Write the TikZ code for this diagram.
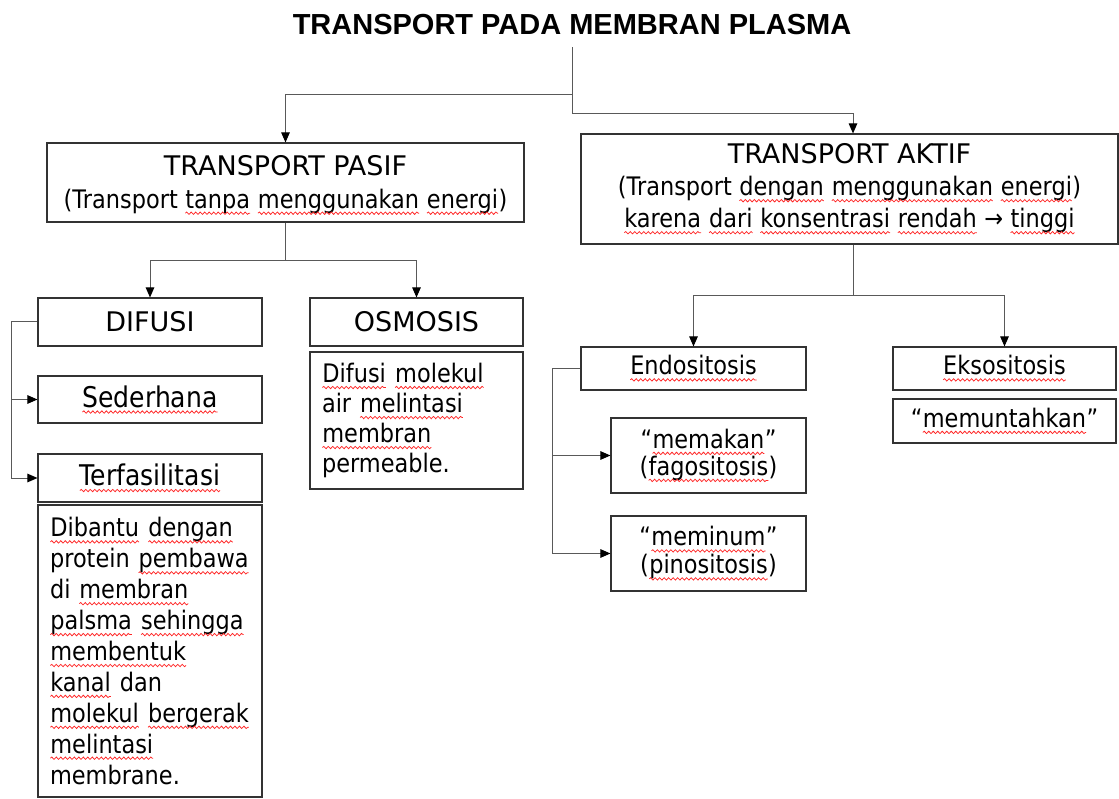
\documentclass[tikz,border=0pt]{standalone}
\usepackage{fontspec}
\setmainfont{DejaVu Sans}[FakeStretch=0.88]
\newfontfamily\headfont{DejaVu Sans}
\newfontfamily\titlefont{Liberation Sans}
\usepackage{xcolor}
\usetikzlibrary{arrows.meta,positioning,decorations.pathmorphing}
% garis merah bergelombang di bawah kata
\newcommand\sq[1]{\tikz[baseline=(w.base)]{\node[draw=none, inner sep=0pt, outer sep=0pt, minimum width=0pt, minimum height=0pt, text width={}, align=left, font={}] (w) {#1};
    \draw[red!85!white, line width=0.75pt, decorate, decoration={snake, amplitude=1.2pt, segment length=4.5pt}] ([yshift=-5pt]w.base west) -- ([yshift=-5pt]w.base east);}}

\begin{document}
\begin{tikzpicture}[x=1pt,y=-1pt,
    box/.style={draw=black!80, line width=1.1pt, inner sep=0pt},
    conn/.style={draw=black!65, line width=1pt},
    arr/.style={conn, -{Triangle[length=10pt,width=8.5pt,color=black]}},
    head/.style={font=\headfont\fontsize{27}{33}\selectfont},
    font=\fontsize{25.5}{33}\selectfont]
    \useasboundingbox (0,0) rectangle (1119,799);

    % judul
    \node[anchor=base, inner ysep=12pt, font=\titlefont\bfseries\fontsize{29}{34}\selectfont] (title) at (572,35) {TRANSPORT PADA MEMBRAN PLASMA};

    % dua cabang utama
    \node[box, minimum width=477pt, minimum height=79pt, align=center, text height=58pt] (pasif) at (285.5,182.5)
        {{\headfont\fontsize{27}{33}\selectfont TRANSPORT PASIF}\\(Transport \sq{tanpa} \sq{menggunakan} \sq{energi})};
    \node[box, minimum width=537pt, minimum height=110pt, align=center, font=\fontsize{25.5}{32}\selectfont] (aktif) at (849.5,189)
        {{\headfont\fontsize{27}{32}\selectfont TRANSPORT AKTIF}\\(Transport \sq{dengan} \sq{menggunakan} \sq{energi})\\\sq{karena} \sq{dari} \sq{konsentrasi} \sq{rendah} → \sq{tinggi}};

    % transport pasif
    \node[box, head, minimum width=224pt, minimum height=48pt] (difusi) at (150,322) {DIFUSI};
    \node[box, head, minimum width=213pt, minimum height=48pt] (osmosis) at (416.5,322) {OSMOSIS};
    \node[box, minimum width=224pt, minimum height=47pt, font=\fontsize{28.5}{34}\selectfont] (sederhana) at (150,399.5) {\sq{Sederhana}};
    \node[box, minimum width=224pt, minimum height=48pt, font=\fontsize{28.5}{34}\selectfont] (terfasilitasi) at (150,478) {\sq{Terfasilitasi}};
    \node[box, minimum width=224pt, minimum height=292pt, text width=200pt, align=left, font=\fontsize{25.5}{30.9}\selectfont] (terfket) at (150,651)
        {\sq{Dibantu} \sq{dengan}\\protein \sq{pembawa}\\di \sq{membran}\\\sq{palsma} \sq{sehingga}\\\sq{membentuk}\\\sq{kanal} dan\\\sq{molekul} \sq{bergerak}\\\sq{melintasi}\\membrane.};
    \node[box, minimum width=213pt, minimum height=137pt, text width=189pt, align=left, font=\fontsize{25.5}{30}\selectfont] (osmosisket) at (416.5,420.5)
        {\sq{Difusi} \sq{molekul}\\air \sq{melintasi}\\\sq{membran}\\permeable.};

    % transport aktif
    \node[box, minimum width=225pt, minimum height=43pt] (endo) at (693.5,368.5) {\sq{Endositosis}};
    \node[box, minimum width=223pt, minimum height=43pt] (ekso) at (1004.5,368.5) {\sq{Eksositosis}};
    \node[box, minimum width=223pt, minimum height=44pt] (muntah) at (1004.5,421) {“\sq{memuntahkan}”};
    \node[box, minimum width=195pt, minimum height=75pt, align=center, font=\fontsize{25.5}{27}\selectfont] (memakan) at (708.5,455.5) {“\sq{memakan}”\\(\sq{fagositosis})};
    \node[box, minimum width=195pt, minimum height=75pt, align=center, font=\fontsize{25.5}{28}\selectfont] (meminum) at (708.5,553.5) {“\sq{meminum}”\\(\sq{pinositosis})};

    % garis penghubung
    \coordinate (jl) at (572,95);
    \coordinate (jr) at (572,114);
    \draw[conn] (title.south) -- (jr);
    \draw[arr] (jr) -| ([xshift=3.5pt]aktif.north);
    \draw[arr] (jl) -| (pasif.north);

    \draw[conn] (pasif.south) -- ++(0,38) coordinate (jp);
    \draw[arr] (jp) -| (difusi.north);
    \draw[arr] (jp) -| (osmosis.north);
    \draw[conn] (difusi.west) -- ++(-26,0) coordinate (jd);
    \draw[arr] (jd) |- (sederhana.west);
    \draw[arr] (jd) |- (terfasilitasi.west);

    \draw[conn] ([xshift=3.5pt]aktif.south) -- ++(0,51) coordinate (jk);
    \draw[arr] (jk) -| (endo.north);
    \draw[arr] (jk) -| (ekso.north);
    \draw[conn] (endo.west) -- ++(-28,0) coordinate (je);
    \draw[arr] (je) |- (memakan.west);
    \draw[arr] (je) |- (meminum.west);
\end{tikzpicture}
\end{document}
